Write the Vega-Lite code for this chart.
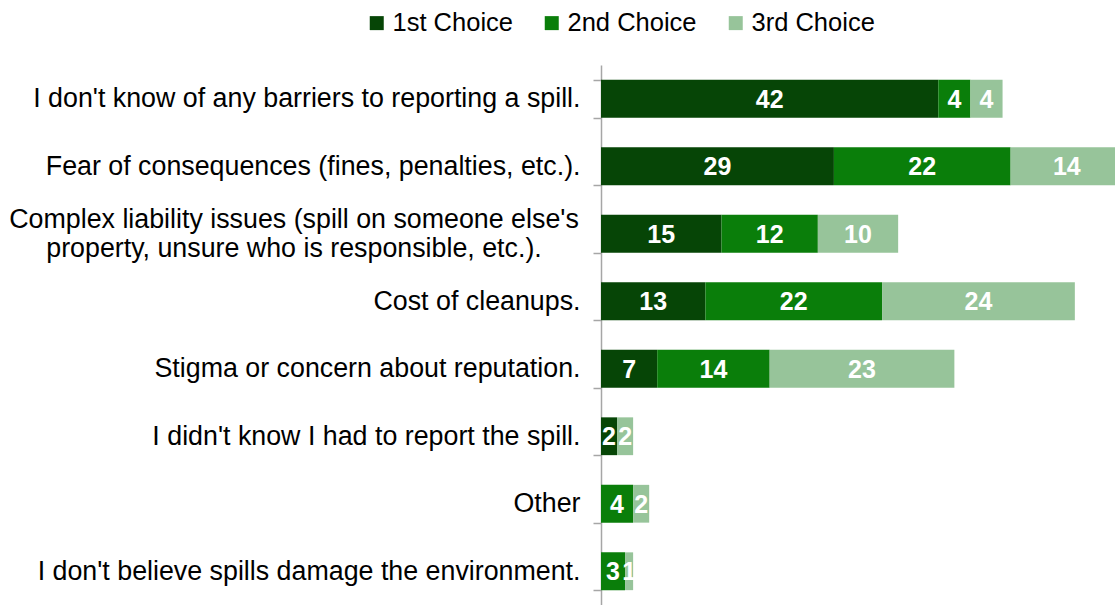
{
  "$schema": "https://vega.github.io/schema/vega-lite/v6.json",
  "description": "Barriers to reporting a spill, ranked 1st, 2nd and 3rd choice",
  "autosize": {"type": "none"},
  "padding": {"left": 601, "top": 65, "right": 0, "bottom": 0},
  "width": 514,
  "height": 540,
  "background": "white",
  "config": {
    "view": {"stroke": null},
    "font": "Liberation Sans"
  },
  "data": {
    "values": [
      {"barrier": "I don't know of any barriers to reporting a spill.", "choice": "1st Choice", "count": 42},
      {"barrier": "I don't know of any barriers to reporting a spill.", "choice": "2nd Choice", "count": 4},
      {"barrier": "I don't know of any barriers to reporting a spill.", "choice": "3rd Choice", "count": 4},
      {"barrier": "Fear of consequences (fines, penalties, etc.).", "choice": "1st Choice", "count": 29},
      {"barrier": "Fear of consequences (fines, penalties, etc.).", "choice": "2nd Choice", "count": 22},
      {"barrier": "Fear of consequences (fines, penalties, etc.).", "choice": "3rd Choice", "count": 14},
      {"barrier": "Complex liability issues (spill on someone else's|property, unsure who is responsible, etc.).", "choice": "1st Choice", "count": 15},
      {"barrier": "Complex liability issues (spill on someone else's|property, unsure who is responsible, etc.).", "choice": "2nd Choice", "count": 12},
      {"barrier": "Complex liability issues (spill on someone else's|property, unsure who is responsible, etc.).", "choice": "3rd Choice", "count": 10},
      {"barrier": "Cost of cleanups.", "choice": "1st Choice", "count": 13},
      {"barrier": "Cost of cleanups.", "choice": "2nd Choice", "count": 22},
      {"barrier": "Cost of cleanups.", "choice": "3rd Choice", "count": 24},
      {"barrier": "Stigma or concern about reputation.", "choice": "1st Choice", "count": 7},
      {"barrier": "Stigma or concern about reputation.", "choice": "2nd Choice", "count": 14},
      {"barrier": "Stigma or concern about reputation.", "choice": "3rd Choice", "count": 23},
      {"barrier": "I didn't know I had to report the spill.", "choice": "1st Choice", "count": 2},
      {"barrier": "I didn't know I had to report the spill.", "choice": "3rd Choice", "count": 2},
      {"barrier": "Other", "choice": "2nd Choice", "count": 4},
      {"barrier": "Other", "choice": "3rd Choice", "count": 2},
      {"barrier": "I don't believe spills damage the environment.", "choice": "2nd Choice", "count": 3},
      {"barrier": "I don't believe spills damage the environment.", "choice": "3rd Choice", "count": 1}
    ]
  },
  "transform": [
    {"stack": "count", "groupby": ["barrier"], "sort": [{"field": "choice"}], "as": ["x0", "x1"]},
    {"calculate": "(datum.x0 + datum.x1) / 2", "as": "mid"}
  ],
  "encoding": {
    "y": {
      "field": "barrier",
      "type": "nominal",
      "sort": null,
      "title": null,
      "scale": {"paddingInner": 0.44, "paddingOuter": 0.22},
      "axis": {
        "labelExpr": "indexof(datum.label, '|') >= 0 ? '' : datum.label",
        "labelFontSize": 26.8,
        "labelColor": "#000000",
        "labelLimit": 700,
        "labelPadding": 13,
        "domainColor": "#a6a6a6",
        "domainWidth": 1.5,
        "tickColor": "#a6a6a6",
        "tickWidth": 1.5,
        "tickSize": 8,
        "tickBand": "extent",
        "grid": false
      }
    }
  },
  "layer": [
    {
      "mark": {"type": "bar", "clip": true},
      "encoding": {
        "x": {
          "field": "x0",
          "type": "quantitative",
          "scale": {"domain": [0, 64], "nice": false},
          "axis": null
        },
        "x2": {"field": "x1"},
        "color": {
          "field": "choice",
          "type": "nominal",
          "scale": {
            "domain": ["1st Choice", "2nd Choice", "3rd Choice"],
            "range": ["#064506", "#0a7e0a", "#97c49a"]
          },
          "legend": {
            "title": null,
            "orient": "none",
            "direction": "horizontal",
            "legendX": -237,
            "legendY": -55,
            "symbolType": "square",
            "symbolSize": 196,
            "symbolStrokeWidth": 0,
            "labelFontSize": 25.5,
            "labelColor": "#000000",
            "labelOffset": 3,
            "columnPadding": 26,
            "labelLimit": 300
          }
        }
      }
    },
    {
      "mark": {
        "type": "text",
        "color": "white",
        "fontSize": 25,
        "fontWeight": "bold",
        "align": "center",
        "baseline": "middle",
        "dy": 1
      },
      "encoding": {
        "x": {"field": "mid", "type": "quantitative"},
        "text": {"field": "count", "type": "quantitative"}
      }
    },
    {
      "transform": [
        {"filter": "indexof(datum.barrier, '|') >= 0 && datum.choice == '1st Choice'"}
      ],
      "mark": {
        "type": "text",
        "color": "#000000",
        "fontSize": 26.8,
        "lineBreak": "|",
        "lineHeight": 29,
        "align": "center",
        "baseline": "middle",
        "dx": -307,
        "dy": -13.5
      },
      "encoding": {
        "x": {"datum": 0, "type": "quantitative"},
        "text": {"field": "barrier", "type": "nominal"}
      }
    }
  ]
}
